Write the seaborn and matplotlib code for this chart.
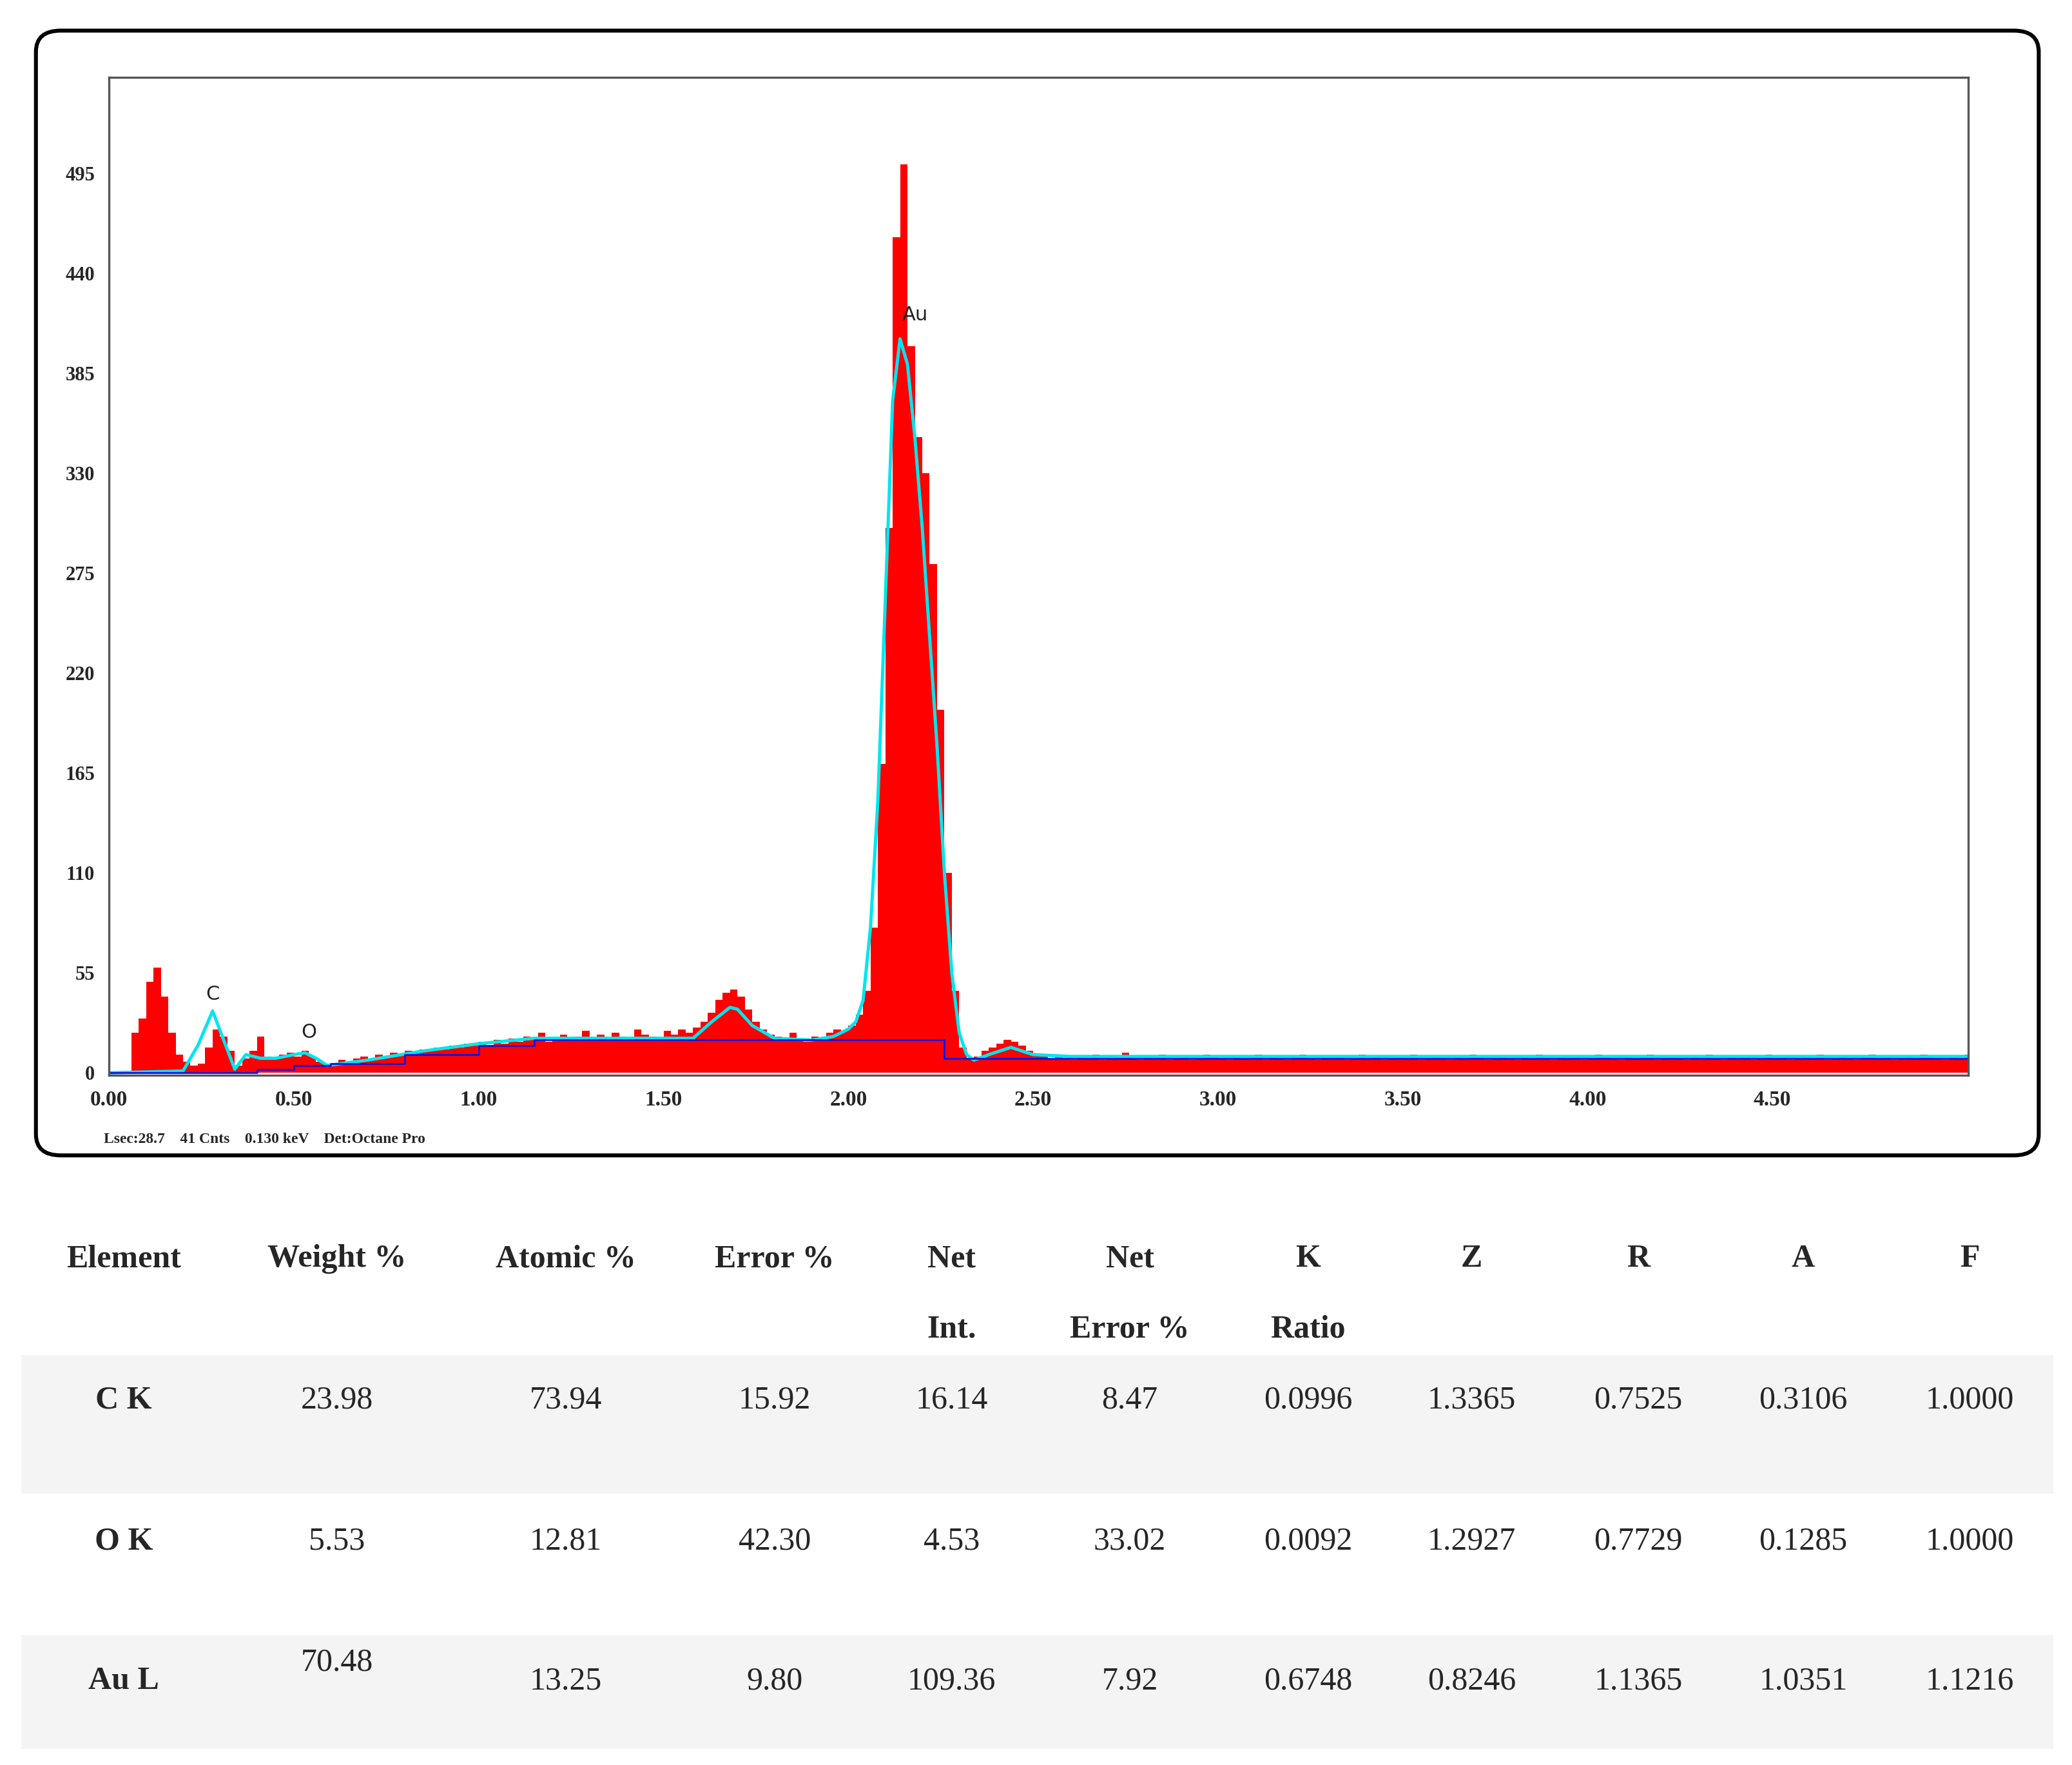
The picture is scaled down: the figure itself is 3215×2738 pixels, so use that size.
import numpy as np
import pandas as pd
import matplotlib
matplotlib.use("Agg")
import matplotlib.pyplot as plt
import seaborn as sns
from matplotlib.patches import FancyBboxPatch, Rectangle

# ---------------- data ----------------
bin_width = 0.02
counts_low = [0, 0, 0, 22, 30, 50, 58, 42, 22, 10, 6, 4, 5, 14, 24, 20, 12, 4, 8, 12,
              20, 9, 8, 10, 11, 9, 12, 9, 6, 5]
counts_rise = [5, 7, 6, 8, 9, 8, 10, 9, 11, 10, 12, 11, 13, 12, 14, 13, 15, 14, 16, 15]
counts_flat = [17, 15, 18, 16, 19, 17, 20, 18, 22, 17, 19, 21, 18, 20, 23, 19, 21, 18, 22, 20,
               19, 24, 21, 20, 18, 23, 21, 24, 22, 25]
counts_bump = [28, 33, 40, 44, 46, 42, 35, 28, 24, 21, 20, 18, 22, 19, 17, 20, 18, 22, 24, 23]
counts_au = [26, 32, 45, 80, 170, 300, 460, 500, 400, 350, 330, 280, 200, 110, 45, 14, 8, 9, 12, 14]
counts_tail = [16, 18, 17, 15, 12, 10, 9, 8, 9, 8]
counts_high = [7, 9, 8, 10, 7, 8, 9, 11, 8, 7, 9, 8, 10, 7, 8, 9, 7, 8, 10, 9,
               8, 7, 9, 8, 8, 10, 7, 9, 8, 7, 9, 10, 8, 7, 9, 8, 9, 7, 8, 10,
               8, 9, 7, 8, 9, 8, 10, 7, 8, 9, 8, 7, 9, 8, 10, 9, 7, 8, 9, 8,
               7, 9, 8, 10, 8, 7, 9, 8, 9, 7, 8, 10, 9, 8, 7, 9, 8, 9, 10, 7,
               8, 9, 8, 7, 9, 8, 10, 8, 7, 9, 8, 9, 7, 8, 10, 8, 9, 7, 8, 9,
               8, 10, 7, 8, 9, 8, 7, 9, 10, 8, 9, 7, 8, 9, 8, 10, 9, 8, 7, 9,
               8, 10]
counts = counts_low + counts_rise + counts_flat + counts_bump + counts_au + counts_tail + counts_high
energy = [round(i * bin_width, 2) for i in range(len(counts))]

fit_energy = [0.00, 0.20, 0.24, 0.28, 0.31, 0.34, 0.37, 0.41, 0.45, 0.50, 0.53, 0.56, 0.59,
              0.70, 0.85, 1.00, 1.15, 1.58, 1.63, 1.68, 1.70, 1.74, 1.80, 1.90, 1.96, 2.00,
              2.02, 2.04, 2.06, 2.08, 2.10, 2.12, 2.14, 2.16, 2.18, 2.20, 2.22, 2.24, 2.26,
              2.28, 2.30, 2.32, 2.34, 2.38, 2.44, 2.50, 2.60, 3.00, 4.00, 5.03]
fit_counts = [0, 1, 15, 34, 18, 2, 10, 8, 8, 10, 11, 8, 4,
              7, 12, 16, 19, 19, 28, 36, 35, 26, 19, 18, 20, 24,
              28, 40, 80, 150, 260, 370, 404, 390, 350, 300, 240, 180, 110,
              55, 22, 10, 7, 10, 14, 10, 9, 9, 9, 9]

bkg_energy = [0.00, 0.35, 0.40, 0.50, 0.60, 0.80, 1.00, 1.15, 2.25, 2.26, 5.03]
bkg_counts = [0, 0, 2, 4, 5, 10, 15, 18, 18, 8, 8]

peak_labels = ["C", "O", "Au"]
peak_label_x = [0.28, 0.54, 2.18]
peak_label_y = [38, 17, 412]

yticks = [0, 55, 110, 165, 220, 275, 330, 385, 440, 495]
xticks = [0.0, 0.5, 1.0, 1.5, 2.0, 2.5, 3.0, 3.5, 4.0, 4.5]
footer = "Lsec:28.7    41 Cnts    0.130 keV    Det:Octane Pro"

header1 = ["Element", "Weight %", "Atomic %", "Error %", "Net", "Net", "K", "Z", "R", "A", "F"]
header2 = ["", "", "", "", "Int.", "Error %", "Ratio", "", "", "", ""]
row_names = ["C K", "O K", "Au L"]
weight = ["23.98", "5.53", "70.48"]
atomic = ["73.94", "12.81", "13.25"]
error = ["15.92", "42.30", "9.80"]
net_int = ["16.14", "4.53", "109.36"]
net_err = ["8.47", "33.02", "7.92"]
k_ratio = ["0.0996", "0.0092", "0.6748"]
z_col = ["1.3365", "1.2927", "0.8246"]
r_col = ["0.7525", "0.7729", "1.1365"]
a_col = ["0.3106", "0.1285", "1.0351"]
f_col = ["1.0000", "1.0000", "1.1216"]

# ---------------- figure ----------------
sns.set_style("white")
plt.rcParams["font.family"] = ["Liberation Serif", "DejaVu Serif"]

W, H = 1557, 1326
fig = plt.figure(figsize=(16.075, 13.69), dpi=200)

def fx(px): return px / W
def fy(py): return 1 - py / H

box = FancyBboxPatch((fx(27), fy(868)), fx(1532) - fx(27), fy(23) - fy(868),
                     boxstyle="round,pad=0,rounding_size=0.012", transform=fig.transFigure,
                     fill=False, edgecolor="black", linewidth=2.2)
fig.patches.append(box)

ax = fig.add_axes([fx(82), fy(808), fx(1479) - fx(82), fy(58) - fy(808)])
df = pd.DataFrame({"energy": energy, "counts": counts})
edges = [round(i * bin_width, 2) for i in range(len(counts) + 1)]
sns.histplot(data=df, x="energy", weights="counts", bins=edges, color="#ff0000",
             alpha=1, linewidth=0, element="bars", ax=ax)
sns.lineplot(x=fit_energy, y=fit_counts, color="#00e5ee", linewidth=1.8, ax=ax)
sns.lineplot(x=bkg_energy, y=bkg_counts, color="#1010dd", linewidth=1.0,
             drawstyle="steps-post", ax=ax)

for lab, x, y in zip(peak_labels, peak_label_x, peak_label_y):
    ax.text(x, y, lab, fontsize=11, family="DejaVu Sans", ha="center", va="bottom", color="#222222")

ax.set_xlim(0, 5.03)
ax.set_ylim(-1.5, 548)
ax.set_xticks(xticks)
ax.set_xticklabels([f"{v:.2f}" for v in xticks], fontsize=12, fontweight="bold")
ax.set_yticks(yticks)
ax.set_yticklabels([str(v) for v in yticks], fontsize=11, fontweight="bold")
ax.set_xlabel("")
ax.set_ylabel("")
ax.tick_params(axis="both", length=0, pad=8)
for s in ax.spines.values():
    s.set_color("#555555")
    s.set_linewidth(1.2)

fig.text(fx(78), fy(856), footer, fontsize=8.5, fontweight="bold", va="center", ha="left")

# ---------------- table ----------------
for top, bot in [(1018, 1122), (1228, 1314)]:
    fig.patches.append(Rectangle((fx(16), fy(bot)), fx(1543) - fx(16), fy(top) - fy(bot),
                                 transform=fig.transFigure, facecolor="#f4f4f4", edgecolor="none"))

col_x = [93, 253, 425, 582, 715, 849, 983, 1106, 1231, 1355, 1480]
fs = 18
for cx, h1, h2 in zip(col_x, header1, header2):
    fig.text(fx(cx), fy(946), h1, fontsize=fs, fontweight="bold", ha="center", va="center")
    if h2:
        fig.text(fx(cx), fy(999), h2, fontsize=fs, fontweight="bold", ha="center", va="center")

row_y = [1052, 1158, 1263]
cols = [weight, atomic, error, net_int, net_err, k_ratio, z_col, r_col, a_col, f_col]
for i, ry in enumerate(row_y):
    fig.text(fx(col_x[0]), fy(ry), row_names[i], fontsize=fs, fontweight="bold", ha="center", va="center")
    for j, col in enumerate(cols):
        y = ry
        if i == 2 and j == 0:
            y = 1249
        fig.text(fx(col_x[j + 1]), fy(y), col[i], fontsize=fs, ha="center", va="center")

fig.savefig("out.png", dpi=200)
